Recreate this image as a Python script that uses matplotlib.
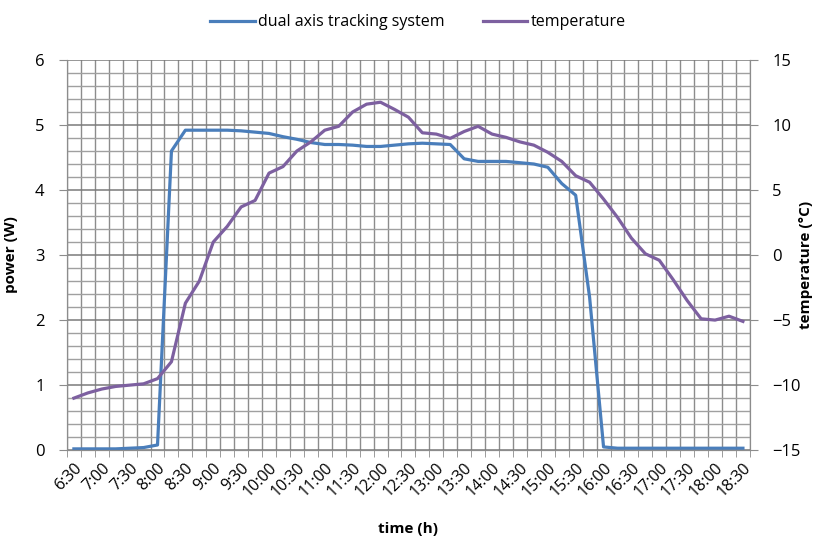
import numpy as np
import matplotlib.pyplot as plt
from matplotlib.ticker import MultipleLocator, FixedLocator

plt.rcParams['font.family'] = ['Open Sans', 'DejaVu Sans']

# x tick labels, every 30 min (data every 15 min)
time_labels = ['6:30', '7:00', '7:30', '8:00', '8:30', '9:00', '9:30', '10:00', '10:30',
               '11:00', '11:30', '12:00', '12:30', '13:00', '13:30', '14:00', '14:30',
               '15:00', '15:30', '16:00', '16:30', '17:00', '17:30', '18:00', '18:30']

# power (W), dual axis tracking system
power = [0.02, 0.02, 0.02, 0.02, 0.03, 0.04, 0.08, 4.60, 4.92, 4.92,
         4.92, 4.92, 4.91, 4.89, 4.87, 4.82, 4.78, 4.73, 4.70, 4.70,
         4.69, 4.67, 4.67, 4.69, 4.71, 4.72, 4.71, 4.70, 4.48, 4.44,
         4.44, 4.44, 4.42, 4.40, 4.35, 4.10, 3.92, 2.35, 0.05, 0.03,
         0.03, 0.03, 0.03, 0.03, 0.03, 0.03, 0.03, 0.03, 0.03]

# temperature (C)
temperature = [-11.0, -10.6, -10.3, -10.1, -10.0, -9.9, -9.5, -8.2, -3.7, -2.0,
               1.0, 2.2, 3.7, 4.2, 6.3, 6.8, 8.0, 8.7, 9.6, 9.9,
               11.0, 11.6, 11.75, 11.2, 10.6, 9.4, 9.3, 8.97, 9.5, 9.9,
               9.3, 9.05, 8.7, 8.45, 7.9, 7.2, 6.1, 5.6, 4.3, 2.9,
               1.3, 0.1, -0.4, -1.9, -3.5, -4.9, -5.0, -4.7, -5.1]

x = np.arange(len(power))
grid_c = '#8c8c8c'

fig = plt.figure(figsize=(8.16, 5.45), dpi=100)
ax = fig.add_axes([0.082, 0.174, 0.837, 0.716])
ax2 = ax.twinx()

ax.plot(x, power, color='#4a7ebb', lw=2.3, solid_joinstyle='round', label='dual axis tracking system')
ax2.plot(x, temperature, color='#7d60a0', lw=2.3, solid_joinstyle='round', label='temperature')

ax.set_xlim(-0.5, len(power) - 0.5)
ax.set_ylim(0, 6)
ax2.set_ylim(-15, 15)

# x axis: labels at every other category, ticks/grid at category borders
ax.xaxis.set_major_locator(FixedLocator(x[::2]))
ax.set_xticklabels(time_labels, rotation=45, ha='right', rotation_mode='anchor', fontsize=11.5)
ax.xaxis.set_minor_locator(FixedLocator(np.arange(len(power) + 1) - 0.5))
ax.tick_params(axis='x', which='major', length=0, pad=7)
ax.tick_params(axis='x', which='minor', length=5, color=grid_c)
ax.grid(True, axis='x', which='minor', color=grid_c, lw=1)

ax.yaxis.set_major_locator(MultipleLocator(1))
ax.yaxis.set_minor_locator(MultipleLocator(0.2))
ax.tick_params(axis='y', which='major', length=6, color=grid_c, labelsize=12, pad=10)
ax.tick_params(axis='y', which='minor', length=0)
ax.grid(True, axis='y', which='major', color='#7a7a7a', lw=1.1)
ax.grid(True, axis='y', which='minor', color='#a0a0a0', lw=1)
ax.set_axisbelow(True)

ax2.yaxis.set_major_locator(MultipleLocator(5))
ax2.tick_params(axis='y', length=6, color=grid_c, labelsize=12, pad=10)

for a in (ax, ax2):
    for s in a.spines.values():
        s.set_color(grid_c)
    a.spines['top'].set_visible(False)

ax.set_xlabel('time (h)', fontsize=11, fontweight='bold', labelpad=16)
ax.set_ylabel('power (W)', fontsize=11, fontweight='bold', labelpad=12)
fig.text(0.988, 1 - 265 / 545, 'temperature (°C)', rotation=90, ha='center', va='center',
         fontsize=11, fontweight='bold')

fig.legend(loc='upper center', bbox_to_anchor=(0.512, 1.0), ncol=2, frameon=False,
           fontsize=11.5, handlelength=2.8, handletextpad=0.2, columnspacing=2.4)

fig.savefig('out.png', dpi=100)
